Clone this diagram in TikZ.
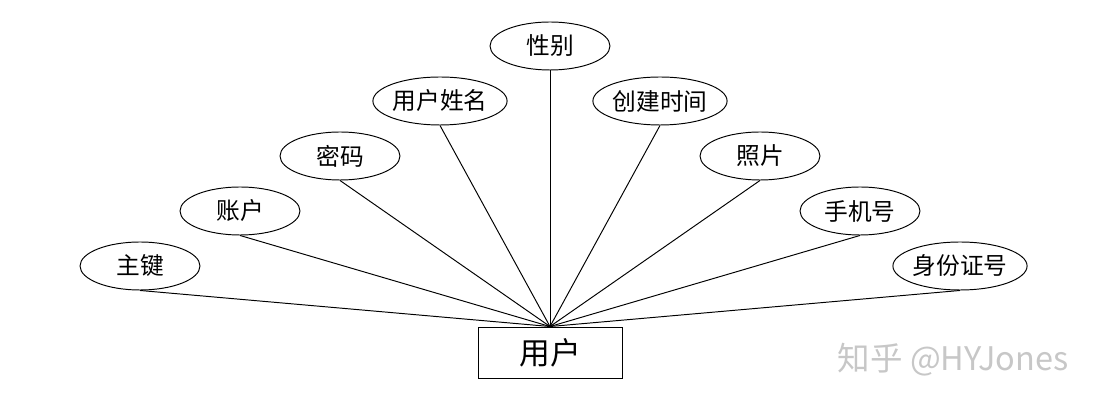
\documentclass[tikz,border=0pt]{standalone}
\usepackage{fontspec}
\setmainfont{Noto Sans CJK SC}
\usetikzlibrary{shapes.geometric}
\begin{document}
\begin{tikzpicture}[x=0.02cm, y=-0.02cm, line width=0.55pt,
  attr/.style={draw, ellipse, minimum width=2.4cm, minimum height=0.96cm, inner sep=0pt, font=\fontsize{13.5}{15}\selectfont},
  entity/.style={draw, rectangle, minimum width=2.88cm, minimum height=1.02cm, inner sep=0pt, font=\fontsize{17.5}{20}\selectfont}]
\useasboundingbox (0,0) rectangle (1100,408);
\node[entity] (user) at (550,352.5) {用户};
\node[attr] (key) at (140,266) {主键};
\node[attr] (account) at (240,211) {账户};
\node[attr] (pwd) at (340,156) {密码};
\node[attr] (name) at (440,101) {用户姓名};
\node[attr] (sex) at (550,46) {性别};
\node[attr] (created) at (660,101) {创建时间};
\node[attr] (photo) at (760,156) {照片};
\node[attr] (phone) at (860,211) {手机号};
\node[attr] (idcard) at (960,266) {身份证号};
\draw (key.south) -- (user.north);
\draw (account.south) -- (user.north);
\draw (pwd.south) -- (user.north);
\draw (name.south) -- (user.north);
\draw (sex.south) -- (user.north);
\draw (created.south) -- (user.north);
\draw (photo.south) -- (user.north);
\draw (phone.south) -- (user.north);
\draw (idcard.south) -- (user.north);
% watermark
\node[text=black!22, font=\fontsize{18.5}{20}\selectfont] (mark) at (953,360) {知乎 @HYJones};
\end{tikzpicture}
\end{document}
